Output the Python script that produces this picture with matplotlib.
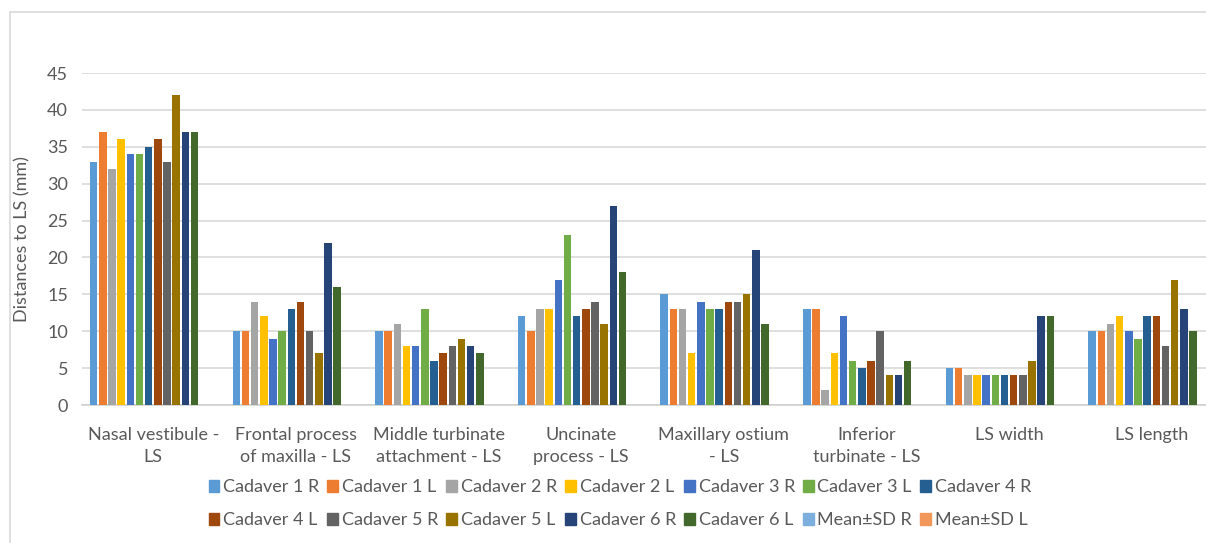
import numpy as np
import matplotlib
matplotlib.use("Agg")
import matplotlib.pyplot as plt
from matplotlib.patches import Rectangle

plt.rcParams['font.family'] = ['Lato', 'DejaVu Sans']

categories = ["Nasal vestibule -\nLS", "Frontal process\nof maxilla - LS",
              "Middle turbinate\nattachment - LS", "Uncinate\nprocess - LS",
              "Maxillary ostium\n- LS", "Inferior\nturbinate - LS",
              "LS width", "LS length"]

cadaver_1_r = [33, 10, 10, 12, 15, 13, 5, 10]
cadaver_1_l = [37, 10, 10, 10, 13, 13, 5, 10]
cadaver_2_r = [32, 14, 11, 13, 13, 2, 4, 11]
cadaver_2_l = [36, 12, 8, 13, 7, 7, 4, 12]
cadaver_3_r = [34, 9, 8, 17, 14, 12, 4, 10]
cadaver_3_l = [34, 10, 13, 23, 13, 6, 4, 9]
cadaver_4_r = [35, 13, 6, 12, 13, 5, 4, 12]
cadaver_4_l = [36, 14, 7, 13, 14, 6, 4, 12]
cadaver_5_r = [33, 10, 8, 14, 14, 10, 4, 8]
cadaver_5_l = [42, 7, 9, 11, 15, 4, 6, 17]
cadaver_6_r = [37, 22, 8, 27, 21, 4, 12, 13]
cadaver_6_l = [37, 16, 7, 18, 11, 6, 12, 10]
# mean±SD series have no bars on the chart
mean_sd_r = [None] * 8
mean_sd_l = [None] * 8

series = [
    ("Cadaver 1 R", cadaver_1_r, "#5B9BD5"),
    ("Cadaver 1 L", cadaver_1_l, "#ED7D31"),
    ("Cadaver 2 R", cadaver_2_r, "#A5A5A5"),
    ("Cadaver 2 L", cadaver_2_l, "#FFC000"),
    ("Cadaver 3 R", cadaver_3_r, "#4472C4"),
    ("Cadaver 3 L", cadaver_3_l, "#70AD47"),
    ("Cadaver 4 R", cadaver_4_r, "#255E91"),
    ("Cadaver 4 L", cadaver_4_l, "#9E480E"),
    ("Cadaver 5 R", cadaver_5_r, "#636363"),
    ("Cadaver 5 L", cadaver_5_l, "#997300"),
    ("Cadaver 6 R", cadaver_6_r, "#264478"),
    ("Cadaver 6 L", cadaver_6_l, "#43682B"),
    ("Mean\u00b1SD R", mean_sd_r, "#7CAFDD"),
    ("Mean\u00b1SD L", mean_sd_l, "#F1975A"),
]

fig = plt.figure(figsize=(12.06, 5.43), dpi=100)
ax = fig.add_axes([82 / 1206, 138 / 543, 1141 / 1206, 332 / 543])

x = np.arange(len(categories))
n = len(series)
slot = 0.9 / n
handles = []
for i, (name, vals, color) in enumerate(series):
    h = np.array([np.nan if v is None else v for v in vals], dtype=float)
    ax.bar(x - 0.45 + slot * (i + 0.5), h, width=slot * 0.82, color=color,
           linewidth=0, zorder=3)
    handles.append(Rectangle((0, 0), 1, 1, color=color, label=name))

ax.set_xlim(-0.5, len(categories) - 0.5)
ax.set_ylim(0, 45)
ax.set_yticks(range(0, 46, 5))
ax.yaxis.grid(True, color="#d9d9d9", linewidth=1.2, zorder=0)
ax.set_axisbelow(True)
for s in ["top", "right", "left"]:
    ax.spines[s].set_visible(False)
ax.spines["bottom"].set_color("#d0d0d0")
ax.spines["bottom"].set_linewidth(1.2)
ax.tick_params(axis="both", length=0, labelsize=13, colors="#595959")
ax.tick_params(axis="y", pad=10)
ax.tick_params(axis="x", pad=16)
ax.set_xticks(x)
ax.set_xticklabels(categories, linespacing=1.45)
ax.set_ylabel("Distances to LS (mm)", fontsize=13, color="#595959", labelpad=12)

# legend filled row by row over two rows
order = [j for pair in zip(range(7), range(7, 14)) for j in pair]
fig.legend([handles[j] for j in order], [handles[j].get_label() for j in order],
           ncol=7, loc="center", bbox_to_anchor=(0.514, 0.072), frameon=False,
           fontsize=13, labelcolor="#595959", handlelength=0.6, handleheight=0.6,
           handletextpad=0.2, columnspacing=0.45, labelspacing=0.95)

# chart frame
fig.patches.append(Rectangle((10 / 1206, -0.1), 2, (543 - 12) / 543 + 0.1,
                             transform=fig.transFigure, fill=False,
                             edgecolor="#d9d9d9", linewidth=1.2))

fig.savefig("out.png", dpi=100)
